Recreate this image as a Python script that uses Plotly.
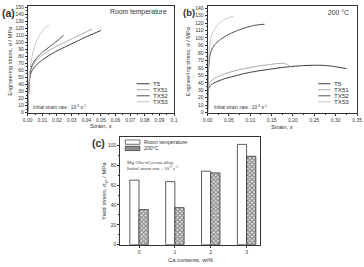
import plotly.graph_objects as go

W, H = 364, 267

# ---------------- data ----------------
series_names = ["T5", "TX51", "TX52", "TX53"]
series_colors = ["#3a3a3a", "#a8a8a8", "#505050", "#c4c4c4"]

# (a) room temperature
a_T5_strain = [0, 0.0005, 0.001, 0.0015, 0.002, 0.003, 0.005, 0.0075, 0.01, 0.015, 0.02, 0.025, 0.03, 0.035, 0.04, 0.045, 0.05]
a_T5_stress = [0, 22, 40, 50, 55, 60, 66, 71, 75, 82, 88, 93, 98, 103, 108, 112.5, 117]
a_TX51_strain = [0, 0.0005, 0.001, 0.0015, 0.002, 0.003, 0.005, 0.0075, 0.01, 0.015, 0.02, 0.025, 0.03, 0.035, 0.04, 0.044]
a_TX51_stress = [0, 23, 42, 53, 59, 65, 72, 78, 82, 89, 95, 100, 105, 110, 115, 119]
a_TX52_strain = [0, 0.0005, 0.001, 0.0015, 0.002, 0.003, 0.005, 0.0075, 0.01, 0.015, 0.02, 0.0245]
a_TX52_stress = [0, 24, 43, 55, 62, 68, 75, 81, 86, 94, 102, 110]
a_TX53_strain = [0, 0.0005, 0.001, 0.0015, 0.002, 0.003, 0.004, 0.005, 0.0065, 0.008, 0.01, 0.012, 0.0145]
a_TX53_stress = [0, 25, 45, 58, 67, 80, 89, 96, 104, 110, 116, 121, 125]

# (b) 200 C
b_T5_strain = [0, 0.001, 0.002, 0.005, 0.01, 0.02, 0.04, 0.06, 0.08, 0.1, 0.125, 0.15, 0.175, 0.2, 0.225, 0.25, 0.27, 0.29, 0.31, 0.325]
b_T5_stress = [0, 25, 31, 35, 38, 41, 45.5, 48.5, 51.5, 54, 56.5, 58.5, 60.5, 62, 63, 63.5, 63.3, 62.3, 60.5, 59]
b_TX51_strain = [0, 0.001, 0.002, 0.005, 0.01, 0.02, 0.04, 0.06, 0.08, 0.1, 0.12, 0.14, 0.16, 0.175, 0.185, 0.19, 0.195]
b_TX51_stress = [0, 28, 35, 40, 43, 47, 52, 55.5, 58, 60.5, 62.5, 64, 65.5, 66, 65, 63, 61]
b_TX52_strain = [0, 0.001, 0.002, 0.004, 0.007, 0.01, 0.02, 0.03, 0.05, 0.07, 0.09, 0.11, 0.1335]
b_TX52_stress = [0, 35, 55, 70, 80, 85, 93, 98, 105, 110, 114, 117, 118.5]
b_TX53_strain = [0, 0.001, 0.002, 0.004, 0.007, 0.01, 0.015, 0.02, 0.03, 0.04, 0.05, 0.06]
b_TX53_stress = [0, 40, 65, 85, 98, 104, 110, 115, 121, 125, 127.5, 129]

# (c) yield stress
ca_contents = [0, 1, 2, 3]
ys_room = [65, 63.5, 74, 101]
ys_200 = [35.3, 37.3, 72.3, 89]
bar_names = ["Room temperature", "200°C"]

# ---------------- helpers ----------------
def X(px):
    return px / W

def Y(py):
    return 1 - py / H

FONT = "Liberation Sans, Arial, sans-serif"
SERIF = "Liberation Serif, Times New Roman, serif"
INK = "#333333"

fig = go.Figure()

a_data = [(a_T5_strain, a_T5_stress), (a_TX51_strain, a_TX51_stress),
          (a_TX52_strain, a_TX52_stress), (a_TX53_strain, a_TX53_stress)]
b_data = [(b_T5_strain, b_T5_stress), (b_TX51_strain, b_TX51_stress),
          (b_TX52_strain, b_TX52_stress), (b_TX53_strain, b_TX53_stress)]

for (xs, ys), name, col in zip(a_data, series_names, series_colors):
    fig.add_trace(go.Scatter(x=xs, y=ys, mode="lines", name=name, line=dict(color=col, width=1, shape="spline", smoothing=0.6),
                             xaxis="x", yaxis="y", showlegend=False))
for (xs, ys), name, col in zip(b_data, series_names, series_colors):
    fig.add_trace(go.Scatter(x=xs, y=ys, mode="lines", name=name, line=dict(color=col, width=1, shape="spline", smoothing=0.6),
                             xaxis="x2", yaxis="y2", showlegend=False))

fig.add_trace(go.Bar(x=ca_contents, y=ys_room, name=bar_names[0], xaxis="x3", yaxis="y3",
                     marker=dict(color="white", line=dict(color=INK, width=0.8)), showlegend=False))
fig.add_trace(go.Bar(x=ca_contents, y=ys_200, name=bar_names[1], xaxis="x3", yaxis="y3",
                     marker=dict(color="white", line=dict(color=INK, width=0.8),
                                 pattern=dict(shape="x", fgcolor="#2a2a2a", bgcolor="#e8e8e8", size=3, solidity=0.6)),
                     showlegend=False))

axis_common = dict(showline=True, linecolor=INK, linewidth=1, mirror=True, ticks="outside", ticklen=2,
                   tickwidth=0.7, tickcolor=INK, showgrid=False, zeroline=False,
                   tickfont=dict(family=FONT, size=5, color=INK))

# panel geometry (px)
ax_l, ax_r, ay_t, ay_b = 23.3, 173.3, 4.0, 112.7
bx_l, bx_r = 207.7, 361.0
cx_l, cx_r, cy_t, cy_b = 118.3, 261.7, 137.5, 247.3

a_xt = [i * 0.01 for i in range(11)]
a_xtext = ["%.2f" % v for v in a_xt[:-1]] + ["0.1"]
b_xt = [i * 0.05 for i in range(8)]
b_xtext = ["%.2f" % v for v in b_xt]

fig.update_layout(
    width=W, height=H, margin=dict(l=0, r=0, t=0, b=0), paper_bgcolor="white", plot_bgcolor="white",
    barmode="group", bargap=0.486, bargroupgap=0,
    xaxis=dict(axis_common, domain=[X(ax_l), X(ax_r)], range=[0, 0.1], tickvals=a_xt, ticktext=a_xtext,
               minor=dict(dtick=0.005, ticks="outside", ticklen=1, tickcolor=INK), anchor="y"),
    yaxis=dict(axis_common, domain=[Y(ay_b), Y(ay_t)], range=[0, 152], dtick=10, tick0=0,
               minor=dict(dtick=5, ticks="outside", ticklen=1, tickcolor=INK), anchor="x"),
    xaxis2=dict(axis_common, domain=[X(bx_l), X(bx_r)], range=[0, 0.35], tickvals=b_xt, ticktext=b_xtext,
                minor=dict(dtick=0.025, ticks="outside", ticklen=1, tickcolor=INK), anchor="y2"),
    yaxis2=dict(axis_common, domain=[Y(ay_b), Y(ay_t)], range=[0, 143], dtick=10, tick0=0,
                minor=dict(dtick=5, ticks="outside", ticklen=1, tickcolor=INK), anchor="x2"),
    xaxis3=dict(axis_common, domain=[X(cx_l), X(cx_r)], range=[-0.52, 3.38], tickvals=ca_contents,
                ticktext=[str(v) for v in ca_contents], anchor="y3"),
    yaxis3=dict(axis_common, domain=[Y(cy_b), Y(cy_t)], range=[0, 108.5], dtick=20, tick0=0,
                minor=dict(dtick=10, ticks="outside", ticklen=1, tickcolor=INK), anchor="x3"),
)

ann = []
def txt(px, py, s, size, xanchor="center", yanchor="middle", angle=0, family=FONT, color=INK):
    ann.append(dict(x=X(px), y=Y(py), xref="paper", yref="paper", text=s, showarrow=False,
                    xanchor=xanchor, yanchor=yanchor, textangle=angle,
                    font=dict(family=family, size=size, color=color)))

# panel labels
txt(12, 11, "<b>(a)</b>", 10.5, xanchor="right")
txt(188.5, 11, "<b>(b)</b>", 9.5)
txt(96, 144, "<b>(c)</b>", 10.5)

# (a) texts
txt(168, 10.5, "Room temperature", 6.8, xanchor="right")
txt(27, 106.5, "Initial strain rate : 10<sup>-3</sup> s<sup>-1</sup>", 4.8, xanchor="left")
txt(5, 60, "Engineering stress, <i>σ</i> / MPa", 5.6, angle=-90)
txt(98, 126.5, "Strain, <i>ε</i>", 6)

# (b) texts
txt(355, 10.5, "200 °C", 6.8, xanchor="right")
txt(212, 107.5, "Initial strain rate : 10<sup>-3</sup> s<sup>-1</sup>", 4.8, xanchor="left")
txt(188, 60, "Engineering stress, <i>σ</i> / MPa", 5.6, angle=-90)
txt(284, 127, "Strain, <i>ε</i>", 6)

# (c) texts
txt(123, 163.5, "Mg-5Sn-xCa cast alloy", 5, xanchor="left", family=SERIF)
txt(123, 169.5, "Initial strain rate : 10<sup>-3</sup> s<sup>-1</sup>", 5, xanchor="left", family=SERIF)
txt(102, 192, "Yield stress, <i>σ</i><sub>ys</sub> / MPa", 5.8, angle=-90)
txt(190, 262.5, "Ca contents, wt%", 5.8)

shapes = []
# legends for (a) and (b)
rows_y = [83.3, 89.4, 95.6, 101.7]
for (l0, l1, tx) in [(135, 148.3, 150), (321.3, 333.7, 335)]:
    for name, col, ry in zip(series_names, series_colors, rows_y):
        shapes.append(dict(type="line", xref="paper", yref="paper", x0=X(l0), x1=X(l1), y0=Y(ry), y1=Y(ry),
                           line=dict(color=col, width=1)))
        txt(tx, ry, name, 6.2, xanchor="left")

# legend for (c)
leg_rows = [142.8, 149.2]
for i, (name, ry) in enumerate(zip(bar_names, leg_rows)):
    shapes.append(dict(type="rect", xref="paper", yref="paper", x0=X(123.3), x1=X(138.3), y0=Y(ry + 2.2), y1=Y(ry - 2.2),
                       line=dict(color=INK, width=0.7), fillcolor="white" if i == 0 else "#8a8a8a"))
    txt(140, ry, name, 5.2, xanchor="left")

fig.update_layout(annotations=ann, shapes=shapes)
fig.write_html("out.html")
